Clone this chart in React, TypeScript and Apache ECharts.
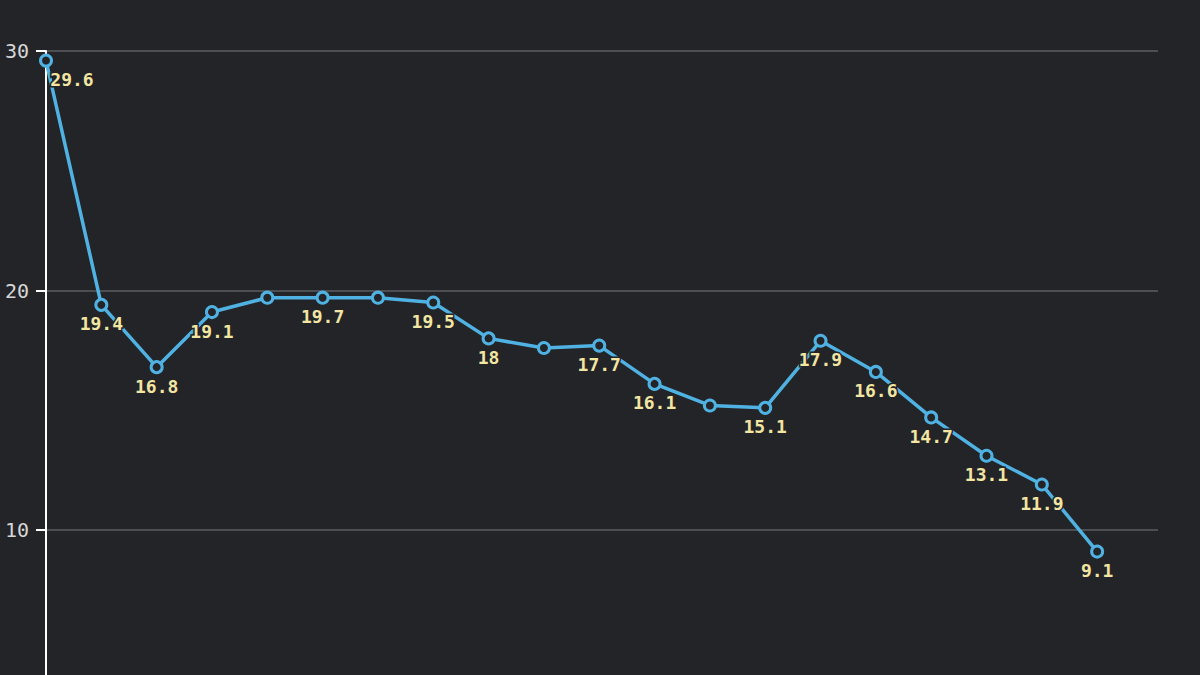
import React, { useEffect, useRef } from "react";
import * as echarts from "echarts";

const values = [29.6, 19.4, 16.8, 19.1, 19.7, 19.7, 19.7, 19.5, 18, 17.6, 17.7, 16.1, 15.2, 15.1, 17.9, 16.6, 14.7, 13.1, 11.9, 9.1];
const hiddenLabels = [4, 6, 9, 12];
const yTicks = [0, 10, 20, 30];

export default function App() {
  const ref = useRef<HTMLDivElement>(null);
  useEffect(() => {
    const chart = echarts.init(ref.current!, null, { renderer: "svg" });
    const data = values.map((v, i) => {
      const item: any = { value: [i, v] };
      if (hiddenLabels.includes(i)) item.label = { show: false };
      if (i === 0) item.label = { offset: [26, 0] };
      return item;
    });
    chart.setOption({
      animation: false,
      backgroundColor: "#232428",
      grid: { left: 46, right: 42, top: 51, bottom: 30.5 },
      xAxis: {
        type: "value",
        min: 0,
        max: 20.1,
        axisLine: { show: false },
        axisTick: { show: false },
        axisLabel: { show: false },
        splitLine: { show: false },
      },
      yAxis: {
        type: "value",
        min: yTicks[0],
        max: yTicks[yTicks.length - 1],
        interval: 10,
        axisLine: { show: true, lineStyle: { color: "#ffffff", width: 2 } },
        axisTick: { show: true, length: 10, lineStyle: { color: "#ffffff", width: 2 } },
        axisLabel: {
          color: "#d6d6d6",
          fontFamily: "DejaVu Sans Mono",
          fontSize: 20,
          margin: 17,
          showMinLabel: false,
        },
        splitLine: { show: true, lineStyle: { color: "#4d4e52", width: 2 } },
      },
      series: [
        {
          type: "line",
          data,
          symbol: "circle",
          symbolSize: 11,
          showAllSymbol: true,
          clip: false,
          lineStyle: { color: "#4fb2e3", width: 3.5 },
          itemStyle: { color: "#232428", borderWidth: 3, borderColor: "#4fb2e3" },
          label: {
            show: true,
            position: "bottom",
            distance: 3,
            color: "#f3e6a3",
            fontFamily: "DejaVu Sans Mono",
            fontWeight: "bold",
            fontSize: 18,
            textBorderColor: "#232428",
            textBorderWidth: 3,
            formatter: (p: any) => String(p.value[1]),
          },
        },
      ],
    });
    return () => chart.dispose();
  }, []);
  return (
    <div style={{ position: "fixed", left: 0, top: 0, width: 1200, height: 675, overflow: "hidden" }}>
      <div ref={ref} style={{ width: 1200, height: 800 }} />
    </div>
  );
}
